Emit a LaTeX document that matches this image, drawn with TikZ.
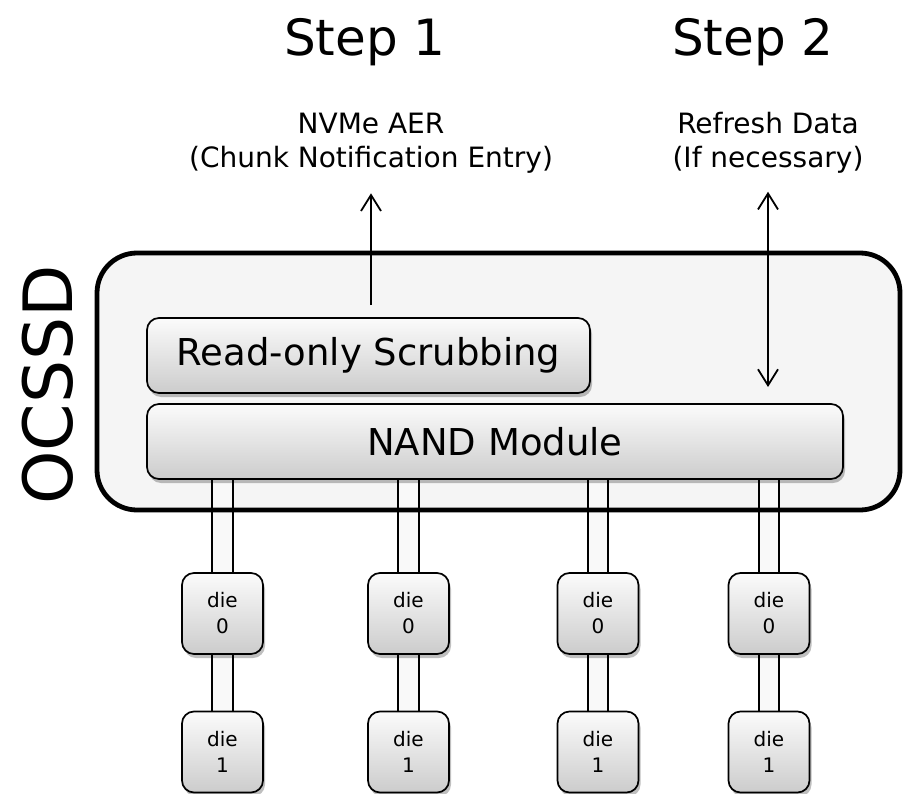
\documentclass[tikz,border=0pt]{standalone}
\usepackage{fontspec}
\setmainfont{DejaVu Sans}
\usetikzlibrary{arrows.meta,shadows,backgrounds}
\begin{document}
\begin{tikzpicture}[x=1pt,y=-1pt,
  fbox/.style={draw=black, line width=1.7pt, rounded corners=12pt, top color=gray!3, bottom color=gray!40, inner sep=0pt, outer sep=0pt,
    drop shadow={shadow xshift=2pt, shadow yshift=-4pt, opacity=0.25, fill=black}},
  bigtext/.style={font=\fontsize{37}{44}\selectfont},
  dieb/.style={fbox, minimum width=81pt, minimum height=81pt, align=center, font=\fontsize{20}{26}\selectfont},
  lbl/.style={align=center, inner sep=0pt, font=\fontsize{28}{34}\selectfont},
  steplbl/.style={inner sep=0pt, anchor=base, font=\fontsize{50}{60}\selectfont},
  tipb/.tip={Straight Barb[length=16pt,width=20pt]},
  arr/.style={line width=1.8pt, -tipb},
  darr/.style={line width=1.8pt, tipb-tipb},
  chan/.style={line width=1.8pt, double=gray!5, double distance=18.5pt}]
\useasboundingbox (0,0) rectangle (909,794);

\node[steplbl] (s1) at (365,56) {Step 1};
\node[steplbl] (s2) at (753,56) {Step 2};
\node[lbl] (nvme) at (371,143) {NVMe AER\\(Chunk Notification Entry)};
\node[lbl] (refr) at (768,143) {Refresh Data\\(If necessary)};

\node[inner sep=0pt, outer sep=0pt, minimum width=803pt, minimum height=257pt] (ocssd) at (498.5,381.5) {};
\node[rotate=90, inner sep=0pt, font=\fontsize{68}{80}\selectfont] (octx) at (48,385) {OCSSD};

\node[fbox, bigtext, minimum width=443pt, minimum height=75pt] (scrub) at (368.5,355.5) {Read-only Scrubbing};
\node[fbox, bigtext, minimum width=696pt, minimum height=75pt] (nand) at (495,441.5) {NAND Module};

\node[dieb] (d0a) at (222.5,613.5) {die\\0};
\node[dieb] (d0b) at (408.5,613.5) {die\\0};
\node[dieb] (d0c) at (598,613.5) {die\\0};
\node[dieb] (d0d) at (769,613.5) {die\\0};
\node[dieb] (d1a) at (222.5,752) {die\\1};
\node[dieb] (d1b) at (408.5,752) {die\\1};
\node[dieb] (d1c) at (598,752) {die\\1};
\node[dieb] (d1d) at (769,752) {die\\1};

\draw[arr, shorten <=13pt, shorten >=20pt] (scrub.north -| nvme.south) -- (nvme.south);
\draw[darr, shorten <=17pt, shorten >=18pt] (nand.north -| refr.south) -- (refr.south);

\begin{scope}[on background layer]
  \fill[gray!8, rounded corners=40pt] (ocssd.north west) rectangle (ocssd.south east);
  \draw[chan] (nand.south -| d0a.north) -- (d0a.north);
  \draw[chan] (nand.south -| d0b.north) -- (d0b.north);
  \draw[chan] (nand.south -| d0c.north) -- (d0c.north);
  \draw[chan] (nand.south -| d0d.north) -- (d0d.north);
  \draw[chan] (d0a.south) -- (d1a.north);
  \draw[chan] (d0b.south) -- (d1b.north);
  \draw[chan] (d0c.south) -- (d1c.north);
  \draw[chan] (d0d.south) -- (d1d.north);
  \draw[line width=4.8pt, rounded corners=40pt] (ocssd.north west) rectangle (ocssd.south east);
\end{scope}
\end{tikzpicture}
\end{document}
